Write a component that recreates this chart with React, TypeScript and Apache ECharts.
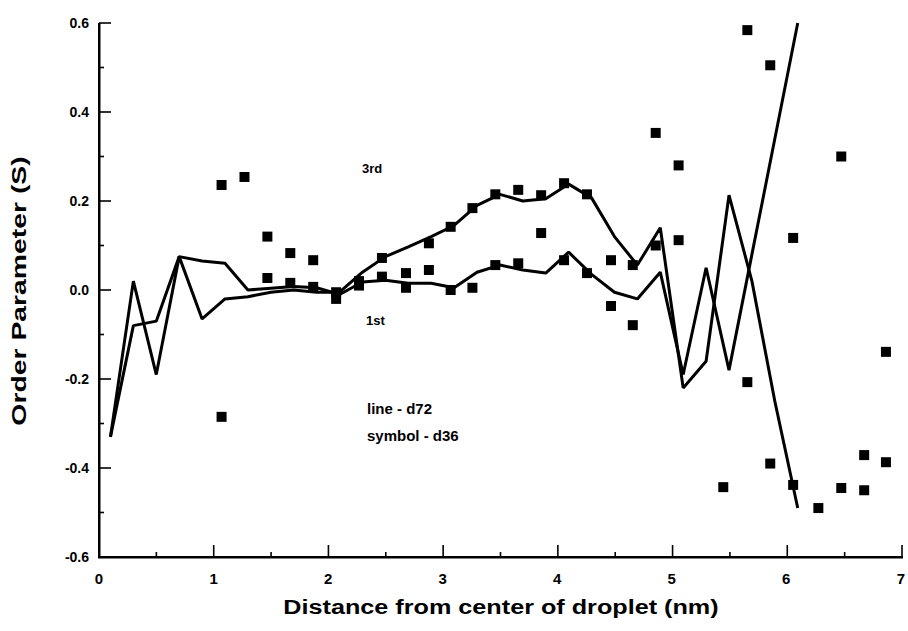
import React, { useEffect, useRef } from "react";
import * as echarts from "echarts";

// Line data (d72), x = 0.1 .. 6.1 step 0.2
const lineX = [0.1, 0.3, 0.5, 0.7, 0.9, 1.1, 1.3, 1.5, 1.7, 1.9, 2.1, 2.3, 2.5, 2.7, 2.9, 3.1, 3.3, 3.5, 3.7, 3.9, 4.1, 4.3, 4.5, 4.7, 4.9, 5.1, 5.3, 5.5, 5.7, 5.9, 6.1];
const thirdLine = [-0.33, 0.02, -0.19, 0.075, -0.065, -0.02, -0.015, -0.005, 0.0, -0.005, -0.005, 0.04, 0.075, 0.097, 0.12, 0.145, 0.19, 0.215, 0.2, 0.205, 0.238, 0.207, 0.12, 0.056, 0.14, -0.22, -0.16, 0.213, 0.02, -0.25, -0.49];
const firstLine = [-0.33, -0.08, -0.07, 0.075, 0.065, 0.06, 0.0, 0.004, 0.008, 0.005, -0.01, 0.018, 0.022, 0.015, 0.015, 0.005, 0.04, 0.056, 0.045, 0.038, 0.085, 0.035, -0.005, -0.02, 0.04, -0.19, 0.05, -0.18, 0.08, 0.34, 0.6];

// Symbol data (d36)
const symX3 = [1.07, 1.27, 1.47, 1.67, 1.87, 2.07, 2.27, 2.47, 2.68, 2.88, 3.07, 3.26, 3.46, 3.66, 3.86, 4.06, 4.26, 4.47, 4.66, 4.86, 5.06, 5.66, 5.86, 6.06, 6.48, 6.68, 6.87];
const symY3 = [0.236, 0.254, 0.12, 0.083, 0.067, -0.005, 0.02, 0.072, 0.038, 0.105, 0.142, 0.184, 0.215, 0.225, 0.213, 0.24, 0.215, 0.067, 0.056, 0.353, 0.28, 0.584, 0.505, 0.117, 0.3, -0.371, -0.139];
const symX1 = [1.07, 1.47, 1.67, 1.87, 2.07, 2.27, 2.47, 2.68, 2.88, 3.07, 3.26, 3.46, 3.66, 3.86, 4.06, 4.26, 4.47, 4.66, 4.86, 5.06, 5.45, 5.66, 5.86, 6.06, 6.28, 6.48, 6.68, 6.87];
const symY1 = [-0.285, 0.027, 0.016, 0.007, -0.02, 0.01, 0.03, 0.005, 0.045, 0.0, 0.005, 0.056, 0.06, 0.128, 0.067, 0.038, -0.036, -0.079, 0.1, 0.112, -0.443, -0.207, -0.39, -0.438, -0.49, -0.445, -0.45, -0.387];

// Axis ticks
const xTicks = [0, 1, 2, 3, 4, 5, 6, 7];
const xMinorTicks = [0.5, 1.5, 2.5, 3.5, 4.5, 5.5, 6.5];
const yTicks = [-0.6, -0.4, -0.2, 0.0, 0.2, 0.4, 0.6];
const yMinorTicks = [-0.5, -0.3, -0.1, 0.1, 0.3, 0.5];

const xTitle = "Distance from center of droplet (nm)";
const yTitle = "Order Parameter (S)";

const W = 908, H = 631;
const G = { left: 99, right: 6, top: 23, bottom: 74 };

export default function App() {
  const ref = useRef<HTMLDivElement>(null);
  useEffect(() => {
    if (!ref.current) return;
    const chart = echarts.init(ref.current, null, { renderer: "svg" });
    const font = "'Liberation Sans', Arial, sans-serif";
    const pair = (xs: number[], ys: number[]) => xs.map((x, i) => [x, ys[i]]);
    const xMin = xTicks[0], xMax = xTicks[xTicks.length - 1];
    const yMin = yTicks[0], yMax = yTicks[yTicks.length - 1];

    // frame geometry derived from the grid layout
    const x0 = G.left, x1 = W - G.right, y0 = H - G.bottom, y1 = G.top;
    const sx = (v: number) => x0 + ((v - xMin) / (xMax - xMin)) * (x1 - x0);
    const sy = (v: number) => y0 - ((v - yMin) / (yMax - yMin)) * (y0 - y1);
    const blk = { fill: "#000" };
    const frame: any[] = [
      { type: "rect", z: 200, zlevel: 1, shape: { x: x0 - 1, y: y0 - 1, width: x1 - x0 + 2, height: 2.5 }, style: blk },
      { type: "rect", z: 200, zlevel: 1, shape: { x: x0 - 1, y: y1, width: 2.5, height: y0 - y1 + 1 }, style: blk },
      ...xTicks.map((v) => ({ type: "rect", z: 200, zlevel: 1, shape: { x: sx(v) - 0.8, y: y0 - 12, width: 1.6, height: 12 }, style: blk })),
      ...xMinorTicks.map((v) => ({ type: "rect", z: 200, zlevel: 1, shape: { x: sx(v) - 0.8, y: y0 - 5, width: 1.6, height: 5 }, style: blk })),
      ...yTicks.map((v) => ({ type: "rect", z: 200, zlevel: 1, shape: { x: x0, y: sy(v) - 0.8, width: 12, height: 1.6 }, style: blk })),
      ...yMinorTicks.map((v) => ({ type: "rect", z: 200, zlevel: 1, shape: { x: x0, y: sy(v) - 0.8, width: 5, height: 1.6 }, style: blk })),
    ];

    chart.setOption({
      animation: false,
      grid: { left: G.left, right: G.right, top: G.top, bottom: G.bottom, containLabel: false },
      xAxis: {
        type: "value",
        min: xMin,
        max: xMax,
        interval: 1,
        axisLine: { show: false, onZero: false },
        axisTick: { show: false },
        splitLine: { show: false },
        axisLabel: { fontFamily: font, fontSize: 15, fontWeight: "bold", color: "#000", margin: 14 },
      },
      yAxis: {
        type: "value",
        min: yMin,
        max: yMax,
        interval: 0.2,
        axisLine: { show: false, onZero: false },
        axisTick: { show: false },
        splitLine: { show: false },
        axisLabel: {
          fontFamily: font,
          fontSize: 14,
          fontWeight: "bold",
          color: "#000",
          margin: 10,
          formatter: (v: number) => v.toFixed(1),
        },
      },
      series: [
        {
          name: "3rd (d72)",
          type: "line",
          data: pair(lineX, thirdLine),
          showSymbol: false,
          symbol: "none",
          lineStyle: { color: "#000", width: 3 },
        },
        {
          name: "1st (d72)",
          type: "line",
          data: pair(lineX, firstLine),
          showSymbol: false,
          symbol: "none",
          lineStyle: { color: "#000", width: 3 },
        },
        {
          name: "3rd (d36)",
          type: "scatter",
          data: pair(symX3, symY3),
          symbol: "rect",
          symbolSize: 10,
          itemStyle: { color: "#000", opacity: 1 },
        },
        {
          name: "1st (d36)",
          type: "scatter",
          data: pair(symX1, symY1),
          symbol: "rect",
          symbolSize: 10,
          itemStyle: { color: "#000", opacity: 1 },
        },
      ],
      graphic: [
        { type: "text", left: 362, top: 162, style: { text: "3rd", font: `bold 13px ${font}`, fill: "#000" } },
        { type: "text", left: 366, top: 314, style: { text: "1st", font: `bold 13px ${font}`, fill: "#000" } },
        { type: "text", left: 367, top: 401, style: { text: "line - d72", font: `bold 15px ${font}`, fill: "#000" } },
        { type: "text", left: 367, top: 428, style: { text: "symbol - d36", font: `bold 15px ${font}`, fill: "#000" } },
        {
          type: "text",
          x: 501,
          y: 607,
          scaleX: 1.2,
          style: { text: xTitle, font: `bold 21px ${font}`, fill: "#000", align: "center", verticalAlign: "middle" },
        },
        {
          type: "text",
          x: 18,
          y: 291,
          rotation: Math.PI / 2,
          scaleX: 1.35,
          style: { text: yTitle, font: `bold 21px ${font}`, fill: "#000", align: "center", verticalAlign: "middle" },
        },
        ...frame,
      ],
    });
    return () => chart.dispose();
  }, []);
  return <div ref={ref} style={{ width: W, height: H, position: "absolute", left: 0, top: 0, background: "#fff" }} />;
}
